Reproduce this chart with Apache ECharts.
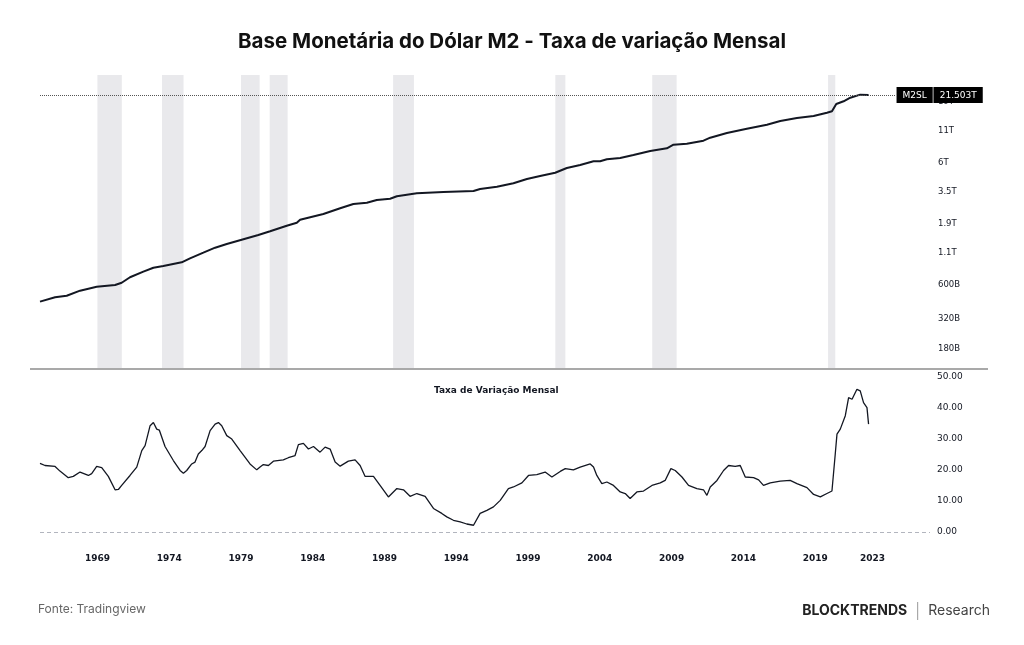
<!DOCTYPE html>
<html>
<head>
<meta charset="utf-8">
<title>Base Monetária do Dólar M2</title>
<script src="https://cdn.jsdelivr.net/npm/echarts@6/dist/echarts.min.js"></script>
<style>
  html, body { margin: 0; padding: 0; background: #fff; }
  #chart { width: 1024px; height: 645px; }
</style>
</head>
<body>
<div id="chart"></div>
<script>
// M2SL (bilhões de USD)
const m2Years = [1965.00, 1966.05, 1966.86, 1967.79, 1968.95, 1970.23, 1970.69, 1971.27, 1972.20, 1972.90,
  1973.59, 1974.87, 1975.45, 1976.38, 1977.20, 1978.01, 1979.17, 1980.21, 1981.03, 1982.19,
  1982.89, 1983.12, 1984.74, 1985.91, 1986.83, 1987.77, 1988.46, 1989.39, 1989.86, 1991.25,
  1993.10, 1995.20, 1995.66, 1996.83, 1997.98, 1998.92, 1999.84, 2000.89, 2001.70, 2002.63,
  2003.56, 2004.02, 2004.49, 2005.42, 2006.34, 2007.51, 2008.67, 2009.13, 2010.06, 2011.22,
  2011.69, 2012.85, 2014.24, 2015.64, 2016.57, 2017.73, 2018.89, 2019.82, 2020.17, 2020.47,
  2020.98, 2021.45, 2022.14, 2022.72];
const m2Values = [439, 477, 491, 540, 582, 601, 627, 695, 772, 832,
  859, 921, 993, 1104, 1213, 1300, 1421, 1540, 1652, 1835,
  1942, 2055, 2288, 2547, 2762, 2831, 2978, 3052, 3193, 3379,
  3462, 3528, 3663, 3825, 4079, 4423, 4679, 4979, 5441, 5757,
  6172, 6172, 6410, 6569, 6950, 7493, 7886, 8438, 8599, 9099,
  9628, 10519, 11407, 12299, 13185, 13952, 14486, 15415, 15827, 18158,
  19107, 20448, 21650, 21503];
const m2Last = 21503;

// Taxa de variação (%)
const rateYears = [1965.00, 1965.35, 1966.05, 1966.39, 1966.97, 1967.32, 1967.79, 1968.37, 1968.60, 1968.95,
  1969.30, 1969.76, 1970.23, 1970.46, 1970.69, 1971.27, 1971.74, 1972.09, 1972.32, 1972.67,
  1972.90, 1973.13, 1973.31, 1973.71, 1974.29, 1974.76, 1974.99, 1975.22, 1975.57, 1975.80,
  1976.03, 1976.27, 1976.50, 1976.85, 1977.20, 1977.43, 1977.66, 1978.01, 1978.36, 1978.94,
  1979.63, 1980.10, 1980.33, 1980.56, 1980.91, 1981.26, 1981.95, 1982.30, 1982.77, 1983.00,
  1983.35, 1983.70, 1984.05, 1984.51, 1984.86, 1985.21, 1985.56, 1985.91, 1986.48, 1986.95,
  1987.30, 1987.65, 1988.23, 1988.69, 1989.27, 1989.86, 1990.32, 1990.78, 1991.25, 1991.83,
  1992.41, 1992.99, 1993.34, 1993.80, 1994.27, 1994.73, 1995.20, 1995.66, 1996.13, 1996.59,
  1997.06, 1997.63, 1997.98, 1998.57, 1999.03, 1999.61, 2000.19, 2000.66, 2001.24, 2001.59,
  2002.16, 2002.63, 2003.33, 2003.56, 2003.79, 2004.14, 2004.49, 2004.95, 2005.42, 2005.77,
  2006.11, 2006.58, 2007.04, 2007.63, 2008.21, 2008.55, 2008.95, 2009.25, 2009.72, 2010.18,
  2010.76, 2011.22, 2011.46, 2011.69, 2012.16, 2012.62, 2012.97, 2013.43, 2013.78, 2014.13,
  2014.71, 2015.06, 2015.40, 2015.87, 2016.57, 2017.26, 2017.73, 2018.43, 2018.89, 2019.36,
  2019.82, 2020.17, 2020.40, 2020.52, 2020.75, 2021.10, 2021.33, 2021.57, 2021.91, 2022.14,
  2022.37, 2022.61, 2022.72];
const rateValues = [22.1, 21.4, 21.1, 19.6, 17.5, 17.9, 19.3, 18.2, 18.8, 21.1,
  20.7, 17.9, 13.6, 13.7, 15.0, 18.2, 20.9, 26.2, 27.8, 34.2,
  35.2, 33.1, 32.8, 27.5, 23.0, 19.8, 18.9, 19.8, 21.9, 22.5,
  25.1, 26.2, 27.5, 32.6, 34.7, 35.2, 34.2, 31.0, 29.9, 26.2,
  21.9, 20.0, 20.9, 21.7, 21.4, 22.8, 23.2, 23.9, 24.6, 28.1,
  28.5, 26.7, 27.5, 25.7, 27.3, 26.7, 22.5, 21.2, 22.8, 23.2,
  21.4, 17.9, 17.9, 15.0, 11.3, 14.0, 13.6, 11.5, 12.4, 11.5,
  7.6, 6.0, 4.9, 3.8, 3.3, 2.6, 2.2, 6.0, 7.0, 8.1,
  10.2, 14.0, 14.5, 15.8, 18.2, 18.5, 19.3, 17.7, 19.5, 20.4,
  20.0, 20.9, 21.9, 20.9, 18.2, 15.6, 16.1, 15.0, 12.9, 12.4,
  10.8, 12.9, 13.2, 15.0, 15.8, 16.6, 20.4, 19.8, 17.7, 15.0,
  14.0, 13.6, 11.8, 14.5, 16.6, 19.8, 21.4, 21.1, 21.4, 17.7,
  17.5, 16.8, 15.0, 15.8, 16.4, 16.6, 15.6, 14.3, 12.1, 11.3,
  12.4, 13.2, 25.1, 31.5, 33.1, 37.4, 43.2, 42.7, 45.9, 45.4,
  41.6, 40.0, 34.7];

// faixas cinzas (recessões)
const recessions = [[1969.0, 1970.7], [1973.5, 1975.0], [1979.0, 1980.3], [1981.0, 1982.25],
  [1989.6, 1991.05], [2000.9, 2001.6], [2007.65, 2009.35], [2019.9, 2020.4]];

const yearTicks = [1969, 1974, 1979, 1984, 1989, 1994, 1999, 2004, 2009, 2014, 2019, 2023];
const m2Ticks = [180, 320, 600, 1100, 1900, 3500, 6000, 11000, 19000];
const rateTicks = [0, 10, 20, 30, 40, 50];

function fmtM2(b) {
  return b >= 1000 ? +(b / 1000).toFixed(1) + 'T' : Math.round(b) + 'B';
}

const chart = echarts.init(document.getElementById('chart'), null, { renderer: 'canvas' });

const ink = '#131722';

const option = {
  backgroundColor: '#fff',
  animation: false,
  title: [{
    text: 'Base Monetária do Dólar M2 - Taxa de variação Mensal',
    left: 'center',
    top: 26,
    textStyle: { fontFamily: 'Inter', fontWeight: 'bold', fontSize: 20.5, color: '#111' }
  }, {
    text: 'Taxa de Variação Mensal',
    left: 429,
    top: 381,
    textStyle: { fontFamily: 'DejaVu Sans', fontWeight: 'bold', fontSize: 9, color: ink }
  }, {
    text: 'Fonte: Tradingview',
    left: 33,
    top: 598,
    textStyle: { fontFamily: 'Inter', fontWeight: 'normal', fontSize: 12, color: '#666' }
  }, {
    text: '{a|BLOCKTRENDS}  {s|}  {b|Research}',
    right: 29,
    top: 597,
    textStyle: {
      fontWeight: 'normal',
      rich: {
        a: { fontFamily: 'Inter', fontWeight: 'bold', fontSize: 14, color: '#222' },
        s: { width: 1, height: 18, backgroundColor: '#999' },
        b: { fontFamily: 'Inter', fontWeight: 'normal', fontSize: 14, color: '#444' }
      }
    }
  }],
  graphic: [{
    type: 'line',
    shape: { x1: 30, y1: 369, x2: 988, y2: 369 },
    style: { stroke: '#8c8c8c', lineWidth: 1.5 },
    silent: true
  }],
  grid: [
    { left: 40, right: 94, top: 75, height: 293 },
    { left: 40, right: 94, top: 370, height: 175 }
  ],
  xAxis: [{
    type: 'value', gridIndex: 0, min: 1965, max: 2027,
    axisLine: { show: false }, axisTick: { show: false },
    axisLabel: { show: false }, splitLine: { show: false }
  }, {
    type: 'value', gridIndex: 1, min: 1965, max: 2027,
    axisLine: { show: false }, axisTick: { show: false }, splitLine: { show: false },
    axisLabel: {
      customValues: yearTicks,
      formatter: v => String(v),
      fontFamily: 'DejaVu Sans', fontWeight: 'bold', fontSize: 9, color: ink, margin: 9
    }
  }],
  yAxis: [{
    type: 'value', gridIndex: 0, position: 'right',
    min: 2.0999, max: 4.4963,
    axisLine: { show: false }, axisTick: { show: false }, splitLine: { show: false },
    axisLabel: {
      customValues: m2Ticks.map(v => Math.log10(v)),
      formatter: v => fmtM2(Math.pow(10, v)),
      fontFamily: 'DejaVu Sans', fontSize: 8.5, color: ink, margin: 8
    }
  }, {
    type: 'value', gridIndex: 1, position: 'right',
    min: -4.15, max: 52.1,
    axisLine: { show: false }, axisTick: { show: false }, splitLine: { show: false },
    axisLabel: {
      customValues: rateTicks,
      formatter: v => v.toFixed(2),
      fontFamily: 'DejaVu Sans', fontSize: 9, color: ink, margin: 7
    }
  }],
  series: [{
    name: 'M2SL',
    type: 'line',
    xAxisIndex: 0, yAxisIndex: 0,
    showSymbol: false,
    silent: true,
    z: 3,
    lineStyle: { color: ink, width: 2 },
    data: m2Years.map((y, i) => [y, Math.log10(m2Values[i])]),
    markArea: {
      silent: true,
      itemStyle: { color: '#e9e9ec' },
      data: recessions.map(r => [{ xAxis: r[0] }, { xAxis: r[1] }])
    },
    markLine: {
      silent: true,
      symbol: 'none',
      lineStyle: { color: '#555', type: 'dotted', width: 1 },
      label: {
        position: 'end',
        distance: 1,
        formatter: '{a|M2SL}{s|}{b|' + (m2Last / 1000).toFixed(3) + 'T}',
        rich: {
          a: { color: '#fff', backgroundColor: '#000', fontFamily: 'DejaVu Sans', fontSize: 9, padding: [4, 6, 3, 6] },
          s: { width: 1, height: 16, backgroundColor: '#777' },
          b: { color: '#fff', backgroundColor: '#000', fontFamily: 'DejaVu Sans', fontSize: 9, padding: [4, 6, 3, 6] }
        }
      },
      data: [[
        { coord: [1965, Math.log10(m2Last)] },
        { coord: [2024.6, Math.log10(m2Last)] }
      ]]
    }
  }, {
    name: 'Taxa de Variação Mensal',
    type: 'line',
    xAxisIndex: 1, yAxisIndex: 1,
    showSymbol: false,
    silent: true,
    lineStyle: { color: ink, width: 1.3 },
    data: rateYears.map((y, i) => [y, rateValues[i]]),
    markLine: {
      silent: true,
      symbol: 'none',
      label: { show: false },
      lineStyle: { color: '#b2b5be', type: [4, 3], width: 1 },
      data: [{ yAxis: 0 }]
    }
  }]
};

chart.setOption(option);

window.onresize = function () {
  chart.resize();
};
</script>
</body>
</html>
